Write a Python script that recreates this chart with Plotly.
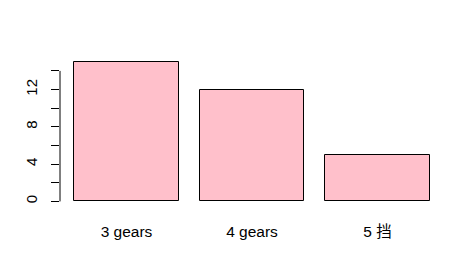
import plotly.graph_objects as go

categories = ["3 gears", "4 gears", "5 挡"]
counts = [15, 12, 5]
bar_centers = [0.7, 1.9, 3.1]
y_ticks_major = [0, 4, 8, 12]
axis_top = 14

fig = go.Figure()
fig.add_trace(go.Bar(
    x=bar_centers, y=counts, width=1.0,
    marker=dict(color="pink", line=dict(color="black", width=1)),
    hoverinfo="skip",
))

fig.update_layout(
    width=450, height=259,
    margin=dict(l=60, r=6, t=56, b=52),
    paper_bgcolor="white", plot_bgcolor="white",
    font=dict(family="Liberation Sans, Arial, Noto Sans CJK SC", size=15, color="black"),
    showlegend=False,
    bargap=0,
)
fig.update_xaxes(
    range=[0.064, 3.736], tickvals=bar_centers, ticktext=categories,
    showgrid=False, zeroline=False, showline=False,
    ticks="outside", ticklen=10, tickcolor="rgba(0,0,0,0)",
    tickfont=dict(size=15.5),
)
fig.update_yaxes(
    range=[-0.6, 15.6], tickvals=y_ticks_major, ticktext=[str(v) for v in y_ticks_major],
    showgrid=False, zeroline=False, showline=False,
    ticks="outside", ticklen=8, tickwidth=1, tickcolor="black",
    tickangle=-90, tickfont=dict(size=15),
    minor=dict(dtick=2, tick0=0, ticks="outside", ticklen=8, tickwidth=1, tickcolor="black", showgrid=False),
    ticklabelstandoff=8,
)
fig.add_shape(type="line", xref="paper", yref="y", x0=0, x1=0, y0=0, y1=axis_top,
              line=dict(color="black", width=1))

fig.write_html("out.html")
